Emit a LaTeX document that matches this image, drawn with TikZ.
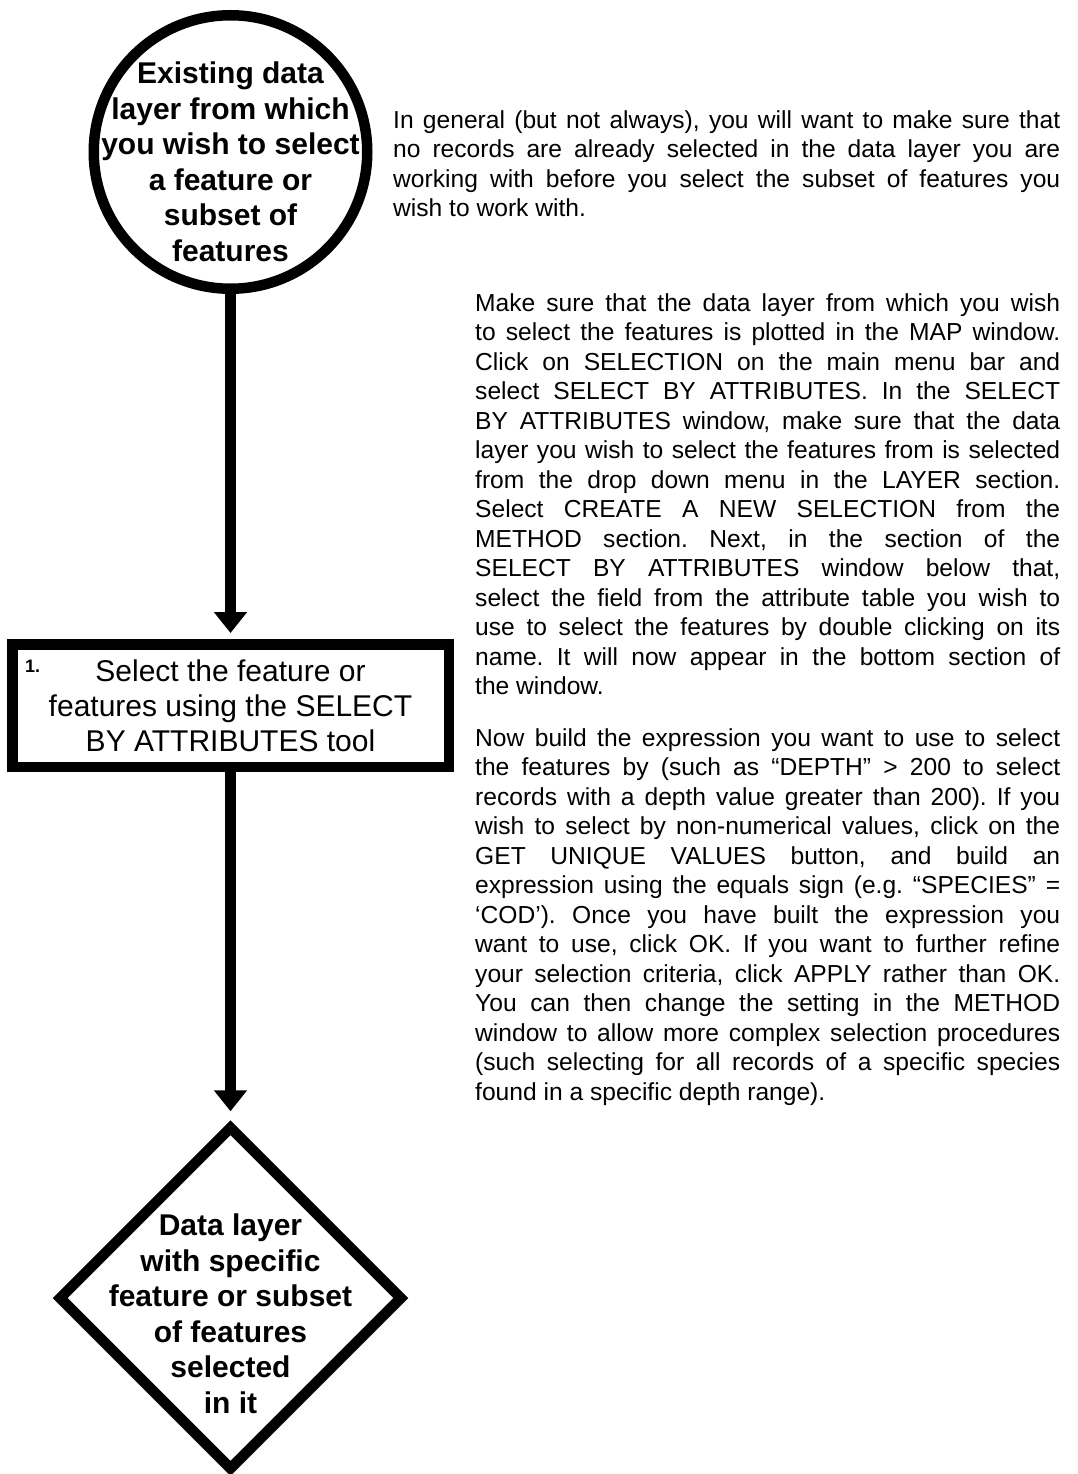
\documentclass[tikz,border=0pt]{standalone}
\usepackage{fontspec}
\setmainfont{Liberation Sans}
\usetikzlibrary{shapes.geometric,arrows.meta}
\frenchspacing
\tolerance=9999
\hyphenpenalty=10000

\begin{document}
\begin{tikzpicture}[x=1pt,y=-1pt,
  outline/.style={draw=black,line width=10.5pt},
  flow/.style={line width=10.5pt,-{Triangle[width=32pt,length=21pt]}},
  boldtext/.style={font=\fontsize{30}{35.5}\selectfont\bfseries,align=center},
  steptext/.style={font=\fontsize{30}{35}\selectfont,align=center},
  note/.style={font=\fontsize{24.6}{29.5}\selectfont,align=justify,inner sep=0pt,anchor=north west}]
\useasboundingbox (0,0) rectangle (1077,1474);

% flow chart
\node[outline,circle,minimum size=273.5pt,
  label={[boldtext,yshift=-10pt]center:Existing data\\layer from which\\you wish to select\\a feature or\\subset of\\features}] (layer) at (230.5,152) {};

\node[outline,rectangle,minimum width=436.5pt,minimum height=122.5pt,steptext] (select) at (230.5,705.5)
  {Select the feature or\\features using the SELECT\\BY ATTRIBUTES tool};
\node[font=\fontsize{18}{20}\selectfont\bfseries,anchor=north west,inner sep=0pt] (stepno)
  at ([shift={(18,21)}]select.north west) {1.};

\node[outline,diamond,aspect=1,minimum size=345pt,
  label={[boldtext,yshift=-15.5pt]center:Data layer\\with specific\\feature or subset\\of features\\selected\\in it}] (result) at (230.5,1298) {};

\draw[flow] (layer.south) -- ([yshift=6pt]select.north);
\draw[flow] (select.south) -- ([yshift=9pt]result.north);

% notes
\node[note,text width=667pt] (intro) at (393,110) {In general (but not always), you will want to make sure that\linebreak
no records are already selected in the data layer you are\linebreak
working with before you select the subset of features you\linebreak
wish to work with.};

\node[note,text width=585pt] (howto) at (475,293) {Make sure that the data layer from which you wish\linebreak
to select the features is plotted in the MAP window.\linebreak
Click on SELECTION on the main menu bar and\linebreak
select SELECT BY ATTRIBUTES.  In the SELECT\linebreak
BY ATTRIBUTES window, make sure that the data\linebreak
layer you wish to select the features from is selected\linebreak
from the drop down menu in the LAYER section.\linebreak
Select CREATE A NEW SELECTION from the\linebreak
METHOD section.  Next, in the section of the\linebreak
SELECT BY ATTRIBUTES window below that,\linebreak
select the field from the attribute table you wish to\linebreak
use to select the features by double clicking on its\linebreak
name.  It will now appear in the bottom section of\linebreak
the window.};

\node[note,text width=585pt] (expr) at (475,728) {Now build the expression you want to use to select\linebreak
the features by (such as “DEPTH” > 200 to select\linebreak
records with a depth value greater than 200).  If you\linebreak
wish to select by non-numerical values, click on the\linebreak
GET UNIQUE VALUES button, and build an\linebreak
expression using the equals sign (e.g. “SPECIES” =\linebreak
‘COD’).  Once you have built the expression you\linebreak
want to use, click OK.  If you want to further refine\linebreak
your selection criteria, click APPLY rather than OK.\linebreak
You can then change the setting in the METHOD\linebreak
window to allow more complex selection procedures\linebreak
(such selecting for all records of a specific species\linebreak
found in a specific depth range).};
\end{tikzpicture}
\end{document}
